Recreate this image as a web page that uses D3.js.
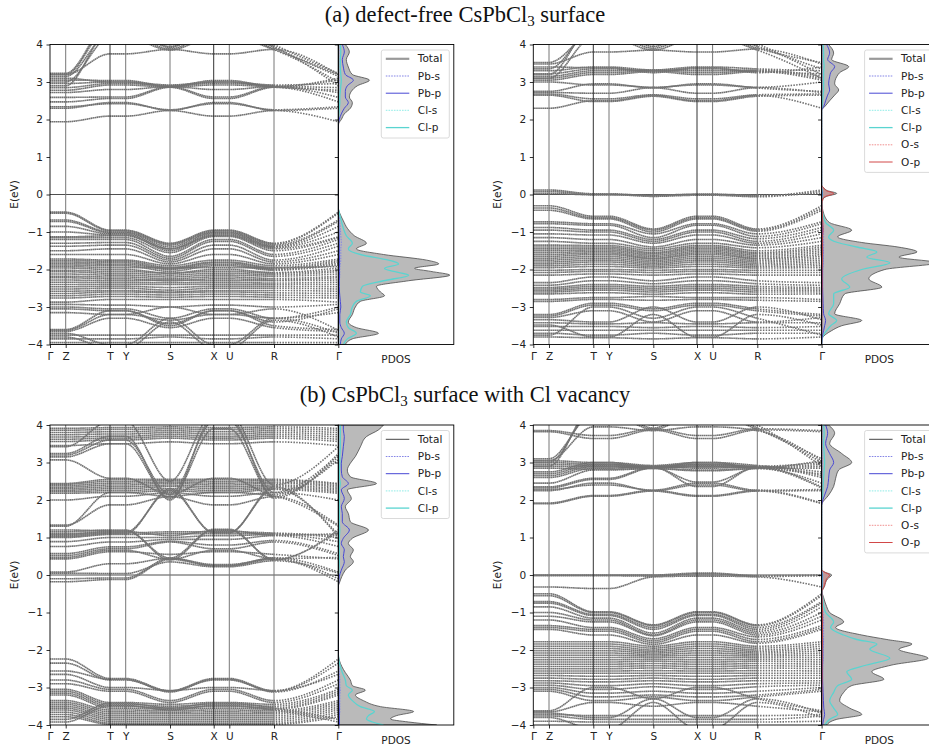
<!DOCTYPE html>
<html>
<head>
<meta charset="utf-8">
<script src="https://cdn.jsdelivr.net/npm/d3@7"></script>
<style>
  body { margin: 0; background: #fff; }
  svg { display: block; }
  text { font-family: "DejaVu Sans", sans-serif; }
</style>
</head>
<body>
<svg id="fig" width="929" height="749"></svg>
<script>
// high-symmetry path
const kLabels = ['Γ', 'Z', 'T', 'Y', 'S', 'X', 'U', 'R', 'Γ'];
const kPos = [0, 0.157, 0.600, 0.757, 1.200, 1.637, 1.793, 2.240, 2.883];
const yTicks = [4, 3, 2, 1, 0, -1, -2, -3, -4];

// bands: energy at [Γ(=Z), T(=Y), S, X(=U), R]
const bandsA1 = [
  [1.94, 2.09, 2.24, 2.09, 2.24], [2.30, 2.45, 2.24, 2.45, 2.24], [2.34, 2.42, 2.26, 2.42, 2.26],
  [2.47, 2.56, 2.86, 2.56, 2.86], [2.59, 2.60, 2.88, 2.60, 2.88], [2.72, 2.80, 2.88, 2.80, 2.88],
  [2.78, 2.92, 2.86, 2.92, 2.86], [2.85, 2.96, 2.90, 2.96, 2.90], [2.96, 3.00, 2.92, 3.00, 2.92],
  [3.05, 3.04, 2.88, 3.04, 2.88], [3.10, 3.00, 2.87, 3.00, 2.87], [3.15, 4.30, 3.88, 4.30, 3.88],
  [3.20, 4.50, 3.92, 4.50, 3.92], [3.00, 4.20, 3.85, 4.20, 3.86], [2.90, 4.40, 3.95, 4.40, 3.95],
  [3.20, 3.75, 3.87, 3.75, 3.87], [3.23, 4.60, 4.05, 4.60, 4.00],
  [-0.47, -0.95, -1.30, -0.95, -1.30], [-0.50, -0.97, -1.32, -0.97, -1.32], [-0.68, -1.00, -1.35, -1.00, -1.35],
  [-0.72, -1.02, -1.40, -1.02, -1.38], [-0.85, -1.05, -1.45, -1.05, -1.40], [-1.00, -1.08, -1.50, -1.08, -1.42],
  [-1.13, -1.10, -1.45, -1.10, -1.45], [-1.15, -1.15, -1.55, -1.12, -1.50], [-1.20, -1.20, -1.65, -1.20, -1.60],
  [-1.30, -1.28, -1.70, -1.25, -1.65], [-1.38, -1.35, -1.75, -1.35, -1.75], [-1.50, -1.45, -1.80, -1.45, -1.80],
  [-1.60, -1.60, -1.85, -1.60, -1.85], [-1.72, -1.75, -1.90, -1.75, -1.90], [-1.76, -1.78, -1.95, -1.80, -1.95],
  [-1.80, -1.82, -1.98, -1.82, -1.98], [-1.84, -1.86, -2.00, -1.86, -2.00], [-1.88, -1.90, -2.05, -1.90, -2.02],
  [-1.92, -1.95, -1.95, -1.95, -1.95], [-1.96, -2.00, -2.10, -2.00, -2.08], [-2.02, -2.05, -2.10, -2.05, -2.10],
  [-2.06, -2.10, -2.15, -2.10, -2.14], [-2.12, -2.15, -2.20, -2.15, -2.18], [-2.18, -2.20, -2.25, -2.20, -2.24],
  [-2.22, -2.25, -2.30, -2.25, -2.28], [-2.28, -2.30, -2.28, -2.30, -2.30], [-2.34, -2.35, -2.35, -2.35, -2.36],
  [-2.40, -2.40, -2.40, -2.40, -2.40], [-2.46, -2.45, -2.48, -2.45, -2.45], [-2.52, -2.50, -2.55, -2.50, -2.50],
  [-2.58, -2.56, -2.60, -2.56, -2.56], [-2.64, -2.60, -2.62, -2.60, -2.62], [-2.70, -2.66, -2.68, -2.66, -2.68],
  [-2.76, -2.72, -2.74, -2.72, -2.74], [-2.87, -2.80, -2.80, -2.80, -2.80], [-2.93, -2.95, -3.00, -2.95, -3.00],
  [-3.00, -3.05, -3.30, -3.05, -3.30], [-3.05, -3.10, -3.45, -3.10, -3.40], [-3.15, -3.20, -3.35, -3.20, -3.30],
  [-3.60, -3.10, -3.50, -3.10, -3.50], [-3.65, -3.30, -3.55, -3.30, -3.55], [-3.70, -4.00, -3.30, -4.00, -3.30],
  [-3.75, -3.75, -3.75, -3.75, -3.75], [-3.80, -4.10, -3.40, -4.10, -3.35], [-3.85, -3.85, -3.80, -3.85, -3.80],
  [-3.95, -3.95, -3.95, -3.95, -3.95], [-3.62, -3.20, -3.00, -3.20, -3.05]
];
const bandsA2 = [
  [2.30, 2.50, 2.64, 2.50, 2.64], [2.65, 2.48, 2.62, 2.48, 2.62], [2.68, 2.55, 2.66, 2.55, 2.66],
  [2.72, 2.70, 2.85, 2.70, 2.85], [2.75, 2.95, 2.84, 2.95, 2.84], [3.00, 2.92, 2.86, 2.92, 2.86],
  [3.05, 3.20, 3.28, 3.20, 3.28], [3.10, 3.25, 3.30, 3.25, 3.30], [3.15, 3.30, 3.32, 3.30, 3.32],
  [3.22, 3.35, 3.30, 3.35, 3.28], [3.30, 3.40, 3.32, 3.40, 3.35], [3.40, 3.38, 3.25, 3.38, 3.25],
  [3.48, 3.80, 3.85, 3.80, 3.88], [3.52, 4.30, 3.90, 4.30, 3.90], [3.35, 4.40, 3.95, 4.40, 3.95],
  [3.20, 4.50, 4.05, 4.50, 4.02], [3.10, 4.20, 3.85, 4.20, 3.85],
  [0.12, 0.02, -0.03, 0.00, -0.04], [0.08, 0.00, -0.05, -0.02, -0.06], [0.03, -0.01, -0.02, 0.01, -0.02],
  [-0.30, -0.58, -0.92, -0.58, -0.92], [-0.36, -0.62, -0.95, -0.62, -0.95], [-0.42, -0.65, -1.00, -0.65, -0.98],
  [-0.73, -0.78, -1.05, -0.78, -1.05], [-0.78, -0.82, -1.15, -0.82, -1.12], [-0.88, -0.95, -1.20, -0.95, -1.18],
  [-0.95, -1.00, -1.25, -1.00, -1.25], [-1.05, -1.08, -1.30, -1.08, -1.30], [-1.15, -1.20, -1.40, -1.20, -1.35],
  [-1.25, -1.30, -1.45, -1.30, -1.42], [-1.35, -1.36, -1.50, -1.36, -1.50], [-1.40, -1.40, -1.55, -1.40, -1.55],
  [-1.45, -1.44, -1.58, -1.44, -1.58], [-1.50, -1.48, -1.62, -1.48, -1.62], [-1.55, -1.52, -1.66, -1.52, -1.66],
  [-1.60, -1.56, -1.70, -1.56, -1.70], [-1.65, -1.60, -1.72, -1.60, -1.72], [-1.70, -1.65, -1.76, -1.65, -1.76],
  [-1.75, -1.70, -1.80, -1.70, -1.80], [-1.80, -1.75, -1.84, -1.75, -1.84], [-1.85, -1.80, -1.88, -1.80, -1.88],
  [-1.90, -1.86, -1.92, -1.86, -1.92], [-1.95, -1.92, -1.96, -1.92, -1.96], [-2.02, -2.00, -2.02, -2.00, -2.02],
  [-2.08, -2.05, -2.08, -2.05, -2.08], [-2.15, -2.12, -2.15, -2.12, -2.15], [-2.35, -2.20, -2.30, -2.20, -2.30],
  [-2.42, -2.30, -2.38, -2.30, -2.38], [-2.48, -2.40, -2.45, -2.40, -2.45], [-2.52, -2.45, -2.50, -2.45, -2.50],
  [-2.56, -2.50, -2.55, -2.50, -2.55], [-2.60, -2.55, -2.60, -2.55, -2.60], [-2.65, -2.62, -2.66, -2.62, -2.66],
  [-2.80, -2.75, -2.72, -2.75, -2.75], [-2.85, -2.80, -2.82, -2.80, -2.82], [-3.20, -2.90, -3.05, -2.90, -3.05],
  [-3.24, -2.95, -3.10, -2.95, -3.10], [-3.28, -3.10, -3.40, -3.10, -3.40], [-3.34, -3.40, -3.00, -3.40, -3.00],
  [-3.42, -3.45, -3.42, -3.45, -3.42], [-3.48, -3.80, -3.20, -3.80, -3.20], [-3.52, -3.52, -3.55, -3.52, -3.55],
  [-3.62, -3.62, -3.62, -3.62, -3.62], [-3.70, -3.75, -3.70, -3.75, -3.70], [-3.80, -3.82, -3.85, -3.82, -3.85],
  [-3.75, -3.00, -3.30, -3.00, -3.30]
];
const bandsB1 = [
  [-0.18, -0.12, 0.42, 0.25, 0.42], [-0.10, -0.08, 0.45, 0.28, 0.44], [0.05, 0.04, 0.35, 0.22, 0.38],
  [0.08, 0.30, 0.45, 0.25, 0.46], [0.43, 0.62, 0.55, 0.62, 0.55], [0.47, 0.66, 0.42, 0.66, 0.44],
  [0.52, 0.70, 0.88, 0.70, 0.88], [0.57, 0.75, 0.90, 0.80, 0.92], [0.76, 0.88, 0.95, 0.95, 1.05],
  [0.89, 1.00, 1.00, 1.05, 1.08], [1.00, 1.08, 1.10, 1.10, 1.10], [1.05, 1.12, 1.15, 1.15, 1.12],
  [1.10, 1.16, 1.05, 1.18, 1.06], [1.15, 1.20, 0.40, 1.20, 0.42], [1.20, 1.18, 0.45, 1.22, 0.40],
  [1.02, 1.10, 2.30, 1.12, 2.35], [1.08, 1.14, 2.25, 1.14, 2.30],
  [1.33, 1.87, 2.09, 1.87, 2.09], [1.30, 2.20, 2.10, 2.20, 2.10], [2.00, 2.10, 2.20, 2.10, 2.20],
  [2.18, 2.20, 2.25, 2.20, 2.28], [2.22, 2.25, 2.30, 2.25, 2.32], [2.26, 2.30, 2.36, 2.30, 2.36],
  [2.30, 2.35, 2.40, 2.35, 2.40], [2.34, 2.40, 2.45, 2.40, 2.45], [2.38, 2.45, 2.48, 2.45, 2.48],
  [2.42, 2.50, 2.52, 2.50, 2.52], [2.44, 2.55, 2.55, 2.55, 2.55], [3.07, 2.58, 2.15, 2.58, 2.15],
  [3.15, 3.50, 2.05, 3.90, 2.10], [3.20, 3.60, 2.15, 4.10, 2.20], [3.24, 3.70, 2.00, 4.20, 2.05],
  [3.42, 4.10, 2.50, 4.30, 2.40], [3.45, 3.50, 3.55, 3.50, 3.55], [3.56, 3.60, 3.65, 3.60, 3.65],
  [3.62, 3.65, 3.70, 3.65, 3.70], [3.68, 3.70, 3.75, 3.70, 3.75], [3.74, 3.76, 3.80, 3.76, 3.80],
  [3.80, 3.82, 3.85, 3.82, 3.85], [3.86, 3.88, 3.90, 3.88, 3.90], [3.91, 3.93, 3.95, 3.93, 3.95],
  [-2.24, -2.76, -3.09, -2.76, -3.09], [-2.35, -2.80, -3.10, -2.80, -3.10], [-2.56, -2.78, -3.12, -2.78, -3.12],
  [-2.65, -3.00, -3.08, -3.00, -3.08], [-2.80, -3.05, -3.35, -3.05, -3.35], [-2.90, -3.10, -3.40, -3.10, -3.40],
  [-3.05, -3.40, -3.45, -3.40, -3.45], [-3.10, -3.45, -3.50, -3.45, -3.50], [-3.15, -3.50, -3.55, -3.50, -3.55],
  [-3.20, -3.55, -3.58, -3.55, -3.58], [-3.35, -3.60, -3.62, -3.60, -3.62], [-3.40, -3.65, -3.66, -3.65, -3.66],
  [-3.45, -3.70, -3.70, -3.70, -3.70], [-3.50, -3.75, -3.75, -3.75, -3.75], [-3.55, -3.80, -3.80, -3.80, -3.80],
  [-3.60, -3.85, -3.85, -3.85, -3.85], [-3.66, -3.90, -3.90, -3.90, -3.90], [-3.72, -3.95, -3.95, -3.95, -3.95],
  [-3.78, -3.98, -3.98, -3.98, -3.98], [-3.85, -3.42, -3.55, -3.42, -3.55], [-3.92, -3.48, -3.60, -3.48, -3.60]
];
const bandsB2 = [
  [1.90, 2.10, 2.24, 2.10, 2.24], [1.92, 2.12, 2.26, 2.12, 2.26], [2.25, 2.45, 2.24, 2.40, 2.24],
  [2.28, 2.40, 2.26, 2.45, 2.26], [2.32, 2.55, 2.86, 2.48, 2.86], [2.35, 2.58, 2.88, 2.36, 2.88],
  [2.45, 2.80, 2.84, 2.80, 2.84], [2.60, 2.85, 2.88, 2.85, 2.88], [2.65, 2.90, 2.90, 2.90, 2.90],
  [2.70, 2.95, 2.86, 2.95, 2.86], [2.75, 3.00, 2.92, 3.00, 2.92], [2.85, 2.82, 2.84, 2.78, 2.84],
  [2.90, 2.88, 2.86, 2.88, 2.86], [2.95, 2.92, 2.88, 2.92, 2.88], [3.00, 2.96, 2.90, 2.96, 2.90],
  [3.05, 3.00, 2.86, 3.00, 2.86], [3.82, 3.64, 3.87, 3.64, 3.87], [3.85, 3.72, 3.90, 3.72, 3.90],
  [3.10, 4.30, 3.88, 4.30, 3.88], [3.00, 4.40, 3.92, 4.40, 3.92], [2.90, 4.50, 4.00, 4.50, 4.00],
  [3.05, 3.95, 3.85, 3.95, 3.85],
  [0.00, 0.00, 0.00, 0.05, -0.02], [-0.02, -0.02, -0.03, 0.03, -0.04], [-0.32, -0.36, -0.05, -0.03, -0.05],
  [-0.50, -0.98, -1.33, -0.98, -1.33], [-0.55, -1.00, -1.35, -1.00, -1.35], [-0.71, -1.05, -1.40, -1.05, -1.40],
  [-0.75, -1.08, -1.45, -1.08, -1.45], [-0.85, -1.15, -1.55, -1.15, -1.50], [-1.00, -1.20, -1.60, -1.20, -1.55],
  [-1.10, -1.25, -1.62, -1.25, -1.60], [-1.20, -1.40, -1.70, -1.40, -1.65], [-1.35, -1.45, -1.75, -1.45, -1.72],
  [-1.40, -1.50, -1.80, -1.50, -1.78], [-1.45, -1.60, -1.85, -1.60, -1.82], [-1.78, -1.78, -1.90, -1.78, -1.90],
  [-1.84, -1.84, -1.95, -1.84, -1.95], [-1.90, -1.90, -2.00, -1.90, -2.00], [-1.96, -1.96, -2.04, -1.96, -2.04],
  [-2.02, -2.02, -2.08, -2.02, -2.08], [-2.08, -2.08, -2.12, -2.08, -2.12], [-2.14, -2.14, -2.16, -2.14, -2.16],
  [-2.20, -2.20, -2.20, -2.20, -2.20], [-2.26, -2.26, -2.25, -2.26, -2.25], [-2.32, -2.32, -2.30, -2.32, -2.30],
  [-2.38, -2.38, -2.36, -2.38, -2.36], [-2.44, -2.44, -2.42, -2.44, -2.42], [-2.50, -2.50, -2.48, -2.50, -2.48],
  [-2.56, -2.56, -2.55, -2.56, -2.55], [-2.62, -2.62, -2.62, -2.62, -2.62], [-2.68, -2.70, -2.68, -2.70, -2.68],
  [-2.75, -2.78, -2.75, -2.78, -2.75], [-2.82, -2.85, -2.82, -2.85, -2.82], [-2.88, -2.95, -2.90, -2.95, -2.90],
  [-2.94, -3.05, -2.98, -3.05, -2.98], [-3.00, -3.15, -3.10, -3.15, -3.10], [-3.05, -3.25, -3.20, -3.25, -3.20],
  [-3.10, -3.35, -3.25, -3.35, -3.25], [-3.65, -3.40, -3.50, -3.40, -3.50], [-3.68, -3.80, -3.30, -3.80, -3.30],
  [-3.72, -3.75, -3.75, -3.75, -3.75], [-3.76, -3.85, -3.85, -3.85, -3.85], [-3.80, -4.10, -3.40, -4.10, -3.40],
  [-3.90, -3.92, -3.92, -3.92, -3.92], [-3.62, -3.00, -3.30, -3.00, -3.30]
];

// PDOS (energy grid + projected values, arbitrary units)
const eA1 = [4.0, 3.8, 3.6, 3.4, 3.2, 3.05, 2.9, 2.75, 2.6, 2.45, 2.3, 2.15, 2.0, 1.9, 1.8, -0.35, -0.5, -0.7, -0.9, -1.1,
  -1.3, -1.45, -1.6, -1.75, -1.85, -1.97, -2.05, -2.15, -2.3, -2.45, -2.6, -2.7, -2.85, -3.0, -3.2, -3.4, -3.55, -3.7, -3.85, -4.0];
const totA1 = [7, 11, 8, 10, 14, 31, 19, 13, 11, 14, 12, 6, 3, 0.5, 0, 0, 1.5, 5, 9, 16,
  28, 18, 45, 88, 100, 76, 92, 111, 70, 38, 42, 46, 22, 17, 14, 10, 18, 40, 14, 7];
const pbsA1 = [0.6, 0.6, 0.5, 0.5, 0.6, 0.8, 0.6, 0.5, 0.5, 0.5, 0.4, 0.3, 0.1, 0, 0, 0, 0.6, 1.2, 2, 2.5,
  3, 2.5, 2.5, 2.5, 2, 1.5, 1.5, 1.5, 1, 0.8, 0.8, 0.8, 0.6, 0.6, 0.5, 0.5, 0.5, 0.5, 0.5, 0.4];
const pbpA1 = [4, 6, 4, 5, 7, 15, 9, 7, 7, 10, 6, 3, 1, 0.2, 0, 0, 0.2, 0.4, 0.6, 0.8,
  1, 1, 1, 1.2, 1.2, 1, 1.2, 1.2, 1, 1, 1.2, 1.5, 2, 2.5, 1.5, 1.5, 3, 6, 3, 2];
const clsA1 = [0.3, 0.3, 0.3, 0.3, 0.3, 0.4, 0.3, 0.3, 0.3, 0.3, 0.2, 0.2, 0.1, 0, 0, 0, 0.2, 0.3, 0.4, 0.5,
  0.6, 0.5, 0.6, 0.8, 0.8, 0.7, 0.8, 0.8, 0.7, 0.6, 0.6, 0.6, 0.5, 0.5, 0.5, 0.5, 0.6, 0.8, 0.6, 0.5];
const clpA1 = [2, 2.5, 2, 2, 2.5, 3, 2.5, 2, 1.5, 1.5, 1, 0.5, 0.2, 0, 0, 0, 1, 3, 5, 8,
  14, 10, 22, 50, 60, 46, 55, 70, 45, 24, 22, 32, 18, 14, 12, 8, 10, 18, 9, 5];

const eA2 = [4.0, 3.77, 3.6, 3.41, 3.25, 3.14, 2.95, 2.79, 2.65, 2.5, 2.34, 2.25, 0.25, 0.18, 0.1, 0.03, -0.05, -0.12, -0.25, -0.5,
  -0.75, -0.95, -1.13, -1.28, -1.4, -1.53, -1.67, -1.82, -2.0, -2.25, -2.47, -2.65, -2.91, -3.18, -3.36, -3.5, -3.63, -3.85, -4.0];
const totA2 = [7, 12, 10, 27, 18, 15, 13, 17, 13, 8, 3, 0, 0, 2, 6, 15, 5, 1.5, 0.5, 2,
  8, 30, 16, 40, 76, 95, 77, 115, 63, 47, 60, 23, 18, 13, 40, 20, 10, 0.5, 0];
const pbsA2 = [0.5, 0.6, 0.5, 0.6, 0.5, 0.5, 0.5, 0.5, 0.5, 0.3, 0.2, 0, 0, 0, 0.2, 0.5, 0.2, 0, 0.2, 0.6,
  1.2, 2, 2, 2, 2, 1.8, 1.5, 1.5, 1.2, 1, 1, 0.8, 0.6, 0.5, 0.5, 0.5, 0.5, 0, 0];
const pbpA2 = [5, 8, 6, 13, 9, 8, 7, 8, 6, 4, 2, 0, 0, 0, 0.2, 0.5, 0.2, 0, 0, 0.3,
  0.5, 0.8, 0.8, 1, 1, 1.2, 1.2, 1.2, 1, 1, 1, 1.2, 1.5, 2, 4, 3, 2, 0.3, 0];
const clsA2 = [0.3, 0.3, 0.3, 0.3, 0.3, 0.3, 0.3, 0.3, 0.2, 0.2, 0.1, 0, 0, 0, 0.1, 0.2, 0.1, 0, 0, 0.2,
  0.4, 0.6, 0.5, 0.6, 0.8, 0.8, 0.8, 0.9, 0.7, 0.6, 0.6, 0.5, 0.5, 0.4, 0.6, 0.5, 0.4, 0, 0];
const clpA2 = [1.5, 2, 2, 2.5, 2, 2, 2, 2, 1.5, 1, 0.5, 0, 0, 0, 0.5, 1, 0.5, 0, 0.2, 1,
  4, 12, 7, 16, 35, 55, 45, 68, 40, 20, 28, 12, 12, 7, 15, 9, 5, 0.3, 0];
const osA2 = [0, 0, 0, 0, 0, 0, 0, 0, 0, 0, 0, 0, 0, 0.3, 0.8, 1.5, 0.6, 0.2, 0, 0.1,
  0.2, 0.2, 0.1, 0.1, 0.1, 0.1, 0.1, 0.1, 0.1, 0.1, 0.1, 0, 0, 0, 0, 0, 0, 0, 0];
const opA2 = [0, 0, 0, 0, 0, 0, 0, 0, 0, 0, 0, 0, 0, 2, 5, 12, 4, 1, 0.3, 0.8,
  1.2, 1.5, 1, 1, 1, 1, 0.8, 0.8, 0.5, 0.5, 0.5, 0.3, 0.3, 0.3, 0.3, 0.2, 0.2, 0, 0];

const eB1 = [4.0, 3.87, 3.69, 3.42, 3.16, 2.98, 2.8, 2.62, 2.44, 2.27, 2.04, 1.82, 1.64, 1.42, 1.2, 0.98, 0.84, 0.67, 0.49, 0.36,
  0.13, -0.04, -0.22, -0.3, -2.1, -2.44, -2.6, -2.8, -2.95, -3.07, -3.2, -3.35, -3.51, -3.64, -3.75, -3.84, -3.92, -4.0];
const totB1 = [45, 40, 28, 22, 17, 12, 9, 12, 38, 9, 13, 7, 10, 12, 30, 14, 10, 15, 12, 15,
  7, 3.5, 1, 0, 0, 3.5, 7, 12, 14, 27, 17, 25, 42, 75, 58, 52, 70, 98];
const pbsB1 = [0.6, 0.6, 0.5, 0.5, 0.5, 0.4, 0.4, 0.4, 0.6, 0.4, 0.4, 0.3, 0.3, 0.3, 0.5, 0.3, 0.3, 0.3, 0.3, 0.3,
  0.2, 0.1, 0, 0, 0, 0.5, 1, 1.5, 1.5, 2, 1.5, 1.5, 1.5, 1.5, 1.2, 1.2, 1.2, 1.2];
const pbpB1 = [5, 5, 6, 5, 4, 3, 3, 4, 10, 3, 6, 3, 4, 4, 11, 5, 3, 6, 5, 6,
  3, 1, 0.3, 0, 0, 0.2, 0.3, 0.5, 0.5, 0.7, 0.5, 0.6, 0.8, 1, 1, 1, 1, 1.2];
const clsB1 = [0.3, 0.3, 0.3, 0.3, 0.2, 0.2, 0.2, 0.2, 0.3, 0.2, 0.2, 0.2, 0.2, 0.2, 0.2, 0.2, 0.2, 0.2, 0.2, 0.2,
  0.1, 0, 0, 0, 0, 0.2, 0.3, 0.4, 0.4, 0.5, 0.4, 0.5, 0.6, 0.8, 0.7, 0.7, 0.8, 1];
const clpB1 = [2, 2, 2, 2, 1.5, 1.5, 1, 1, 2, 1, 1, 1, 1, 1, 1.5, 1, 1, 1, 1, 1,
  0.5, 0.3, 0, 0, 0, 2, 4, 7, 8, 14, 10, 14, 22, 36, 30, 28, 34, 45];

const eB2 = [4.0, 3.78, 3.51, 3.24, 3.0, 2.8, 2.58, 2.36, 2.13, 1.91, 1.85, 0.15, 0.08, 0.0, -0.1, -0.2, -0.3, -0.4, -0.45, -0.6,
  -0.84, -1.0, -1.25, -1.4, -1.6, -1.72, -1.84, -1.98, -2.22, -2.4, -2.58, -2.78, -2.95, -3.13, -3.35, -3.55, -3.72, -3.85, -4.0];
const totB2 = [7, 13, 8, 20, 30, 17, 14, 12, 7, 0.5, 0, 0, 3, 10, 6, 4, 3, 1, 0.5, 2,
  5, 8, 22, 14, 40, 65, 90, 77, 106, 70, 50, 62, 30, 22, 18, 28, 40, 15, 5];
const pbsB2 = [0.5, 0.6, 0.5, 0.6, 0.8, 0.6, 0.5, 0.5, 0.3, 0, 0, 0, 0.2, 0.4, 0.3, 0.2, 0.2, 0.1, 0.1, 0.5,
  1, 1.5, 2, 2, 2, 2, 1.8, 1.5, 1.5, 1.2, 1, 1, 0.8, 0.6, 0.5, 0.5, 0.5, 0.4, 0.3];
const pbpB2 = [4, 6, 4, 8, 12, 8, 7, 6, 3, 0.3, 0, 0, 0.2, 0.5, 0.3, 0.2, 0.2, 0.1, 0.1, 0.3,
  0.5, 0.8, 1, 1, 1, 1.2, 1.2, 1.2, 1.2, 1, 1, 1, 1.2, 1.5, 1.8, 2.2, 3, 2, 1];
const clsB2 = [0.3, 0.3, 0.3, 0.3, 0.4, 0.3, 0.3, 0.2, 0.2, 0, 0, 0, 0, 0.1, 0.1, 0, 0, 0, 0, 0.1,
  0.2, 0.3, 0.5, 0.4, 0.6, 0.7, 0.8, 0.8, 0.9, 0.7, 0.6, 0.6, 0.5, 0.4, 0.4, 0.5, 0.5, 0.3, 0.2];
const clpB2 = [2, 2.5, 2, 2.5, 3, 2.5, 2, 1.5, 1, 0, 0, 0, 0.3, 1, 0.8, 0.5, 0.5, 0.3, 0.2, 1,
  2, 4, 12, 9, 22, 35, 55, 48, 68, 45, 25, 30, 16, 12, 8, 12, 16, 8, 3];
const osB2 = [0, 0, 0, 0, 0, 0, 0, 0, 0, 0, 0, 0, 0.3, 1, 0.6, 0.4, 0.3, 0.1, 0, 0.1,
  0.1, 0.2, 0.2, 0.1, 0.1, 0.1, 0.1, 0.1, 0.1, 0.1, 0.1, 0.1, 0, 0, 0, 0, 0, 0, 0];
const opB2 = [0, 0, 0, 0, 0, 0, 0, 0, 0, 0, 0, 0, 2.5, 8, 5, 3.5, 2.5, 0.5, 0.2, 0.5,
  0.8, 1, 1, 0.8, 0.8, 0.8, 0.8, 0.6, 0.6, 0.5, 0.5, 0.5, 0.3, 0.3, 0.3, 0.2, 0.2, 0.1, 0];

const titles = ['(a) defect-free CsPbCl', '(b) CsPbCl'];
const titleTails = [' surface', ' surface with Cl vacancy'];

// series styling
const styles = {
  'Pb-s': { color: '#8585e6', dash: '1.6 1.1', width: 1 },
  'Pb-p': { color: '#4848d4', dash: null, width: 1 },
  'Cl-s': { color: '#a6f0ec', dash: '1.6 1.1', width: 1.2 },
  'Cl-p': { color: '#5ad4d0', dash: null, width: 1.3 },
  'O-s':  { color: '#f09090', dash: '1.6 1.1', width: 1 },
  'O-p':  { color: '#d24848', dash: null, width: 1 }
};

const bandW = 288.3, pdosW = 115.5, plotH = 300;
const panels = [
  { id: 'pA1', left: 50, top: 44.5, bands: bandsA1, e: eA1, total: totA1, totalLegend: 'thick',
    series: { 'Pb-s': pbsA1, 'Pb-p': pbpA1, 'Cl-s': clsA1, 'Cl-p': clpA1 } },
  { id: 'pA2', left: 533.3, top: 44.5, bands: bandsA2, e: eA2, total: totA2, totalLegend: 'thick',
    series: { 'Pb-s': pbsA2, 'Pb-p': pbpA2, 'Cl-s': clsA2, 'Cl-p': clpA2, 'O-s': osA2, 'O-p': opA2 } },
  { id: 'pB1', left: 50, top: 425, bands: bandsB1, e: eB1, total: totB1, totalLegend: 'thin',
    series: { 'Pb-s': pbsB1, 'Pb-p': pbpB1, 'Cl-s': clsB1, 'Cl-p': clpB1 } },
  { id: 'pB2', left: 533.3, top: 425, bands: bandsB2, e: eB2, total: totB2, totalLegend: 'thin',
    series: { 'Pb-s': pbsB2, 'Pb-p': pbpB2, 'Cl-s': clsB2, 'Cl-p': clpB2, 'O-s': osB2, 'O-p': opB2 } }
];

const svg = d3.select('#fig');
const defs = svg.append('defs');
const fmt = d => (d < 0 ? '\u2212' + Math.abs(d) : '' + d);

// titles (serif, with subscript 3)
[22, 402].forEach((ty, i) => {
  const t = svg.append('text')
    .attr('x', 465).attr('y', ty)
    .attr('text-anchor', 'middle')
    .style('font-family', '"Liberation Serif", "Times New Roman", serif')
    .style('font-size', '22.5px')
    .attr('fill', '#111');
  t.append('tspan').text(titles[i]);
  t.append('tspan').attr('dy', 4).style('font-size', '15px').text('3');
  t.append('tspan').attr('dy', -4).text(titleTails[i]);
});

function drawPanel(p) {
  const g = svg.append('g');
  const x = d3.scaleLinear().domain([0, kPos[kPos.length - 1]]).range([p.left, p.left + bandW]);
  const y = d3.scaleLinear().domain([-4, 4]).range([p.top + plotH, p.top]);
  const xd = d3.scaleLinear().domain([0, 115]).range([p.left + bandW, p.left + bandW + pdosW]);
  const xR = x(kPos[7]);

  // clip regions: dense part of path and sparse R-Γ part
  defs.append('clipPath').attr('id', p.id + '-main').append('rect')
    .attr('x', p.left).attr('y', p.top).attr('width', xR - p.left).attr('height', plotH);
  defs.append('clipPath').attr('id', p.id + '-rg').append('rect')
    .attr('x', xR).attr('y', p.top).attr('width', p.left + bandW - xR).attr('height', plotH);
  defs.append('clipPath').attr('id', p.id + '-dos').append('rect')
    .attr('x', p.left + bandW).attr('y', p.top).attr('width', pdosW).attr('height', plotH);

  // Fermi level
  g.append('line')
    .attr('x1', p.left).attr('x2', p.left + bandW)
    .attr('y1', y(0)).attr('y2', y(0))
    .attr('stroke', '#222').attr('stroke-width', 0.8);

  // bands
  const line = d3.line()
    .x((d, i) => x(kPos[i]))
    .y(d => y(d))
    .curve(d3.curveMonotoneX);
  const expand = b => [b[0], b[0], b[1], b[1], b[2], b[3], b[3], b[4], b[0]];
  [['main', '1.6 0.35'], ['rg', '1.5 1.3']].forEach(([seg, dash]) => {
    g.append('g').attr('clip-path', `url(#${p.id}-${seg})`)
      .selectAll('path').data(p.bands).join('path')
      .attr('d', b => line(expand(b)))
      .attr('fill', 'none')
      .attr('stroke', '#727272')
      .attr('stroke-width', 1.6)
      .attr('stroke-dasharray', dash);
  });

  // high-symmetry lines
  g.append('g').selectAll('line').data(kPos.slice(1, 8)).join('line')
    .attr('x1', d => x(d)).attr('x2', d => x(d))
    .attr('y1', p.top).attr('y2', p.top + plotH)
    .attr('stroke', (d, i) => (i === 1 || i === 4) ? '#333' : '#777')
    .attr('stroke-width', 1);

  // PDOS
  const dos = g.append('g').attr('clip-path', `url(#${p.id}-dos)`);
  const idx = d3.range(p.e.length);
  const area = vals => d3.area()
    .y(i => y(p.e[i]))
    .x0(xd(0))
    .x1(i => xd(vals[i]))
    .curve(d3.curveMonotoneY)(idx);
  const lineD = vals => d3.line()
    .y(i => y(p.e[i]))
    .x(i => xd(vals[i]))
    .curve(d3.curveMonotoneY)(idx);

  dos.append('path').attr('d', area(p.total))
    .attr('fill', '#bababa').attr('stroke', '#4a4a4a').attr('stroke-width', 0.8);
  if (p.series['O-p']) {
    dos.append('path').attr('d', area(p.series['O-p']))
      .attr('fill', '#d25858').attr('fill-opacity', 0.35).attr('stroke', 'none');
  }
  ['Cl-s', 'Pb-s', 'O-s', 'Cl-p', 'Pb-p', 'O-p'].forEach(k => {
    if (!p.series[k]) return;
    const s = styles[k];
    dos.append('path').attr('d', lineD(p.series[k]))
      .attr('fill', 'none').attr('stroke', s.color)
      .attr('stroke-width', s.width)
      .attr('stroke-dasharray', s.dash);
  });

  // frames
  g.append('rect')
    .attr('x', p.left).attr('y', p.top).attr('width', bandW).attr('height', plotH)
    .attr('fill', 'none').attr('stroke', '#000').attr('stroke-width', 0.9);
  g.append('rect')
    .attr('x', p.left + bandW).attr('y', p.top).attr('width', pdosW).attr('height', plotH)
    .attr('fill', 'none').attr('stroke', '#000').attr('stroke-width', 0.9);

  // axes
  const ya = g.append('g').attr('transform', `translate(${p.left},0)`)
    .call(d3.axisLeft(y).tickValues(yTicks).tickFormat(fmt).tickSize(3.5).tickPadding(3.5).tickSizeOuter(0));
  const yd = g.append('g').attr('transform', `translate(${p.left + bandW},0)`)
    .call(d3.axisLeft(y).tickValues(yTicks).tickFormat('').tickSize(3.5).tickSizeOuter(0));
  const xa = g.append('g').attr('transform', `translate(0,${p.top + plotH})`)
    .call(d3.axisBottom(x).tickValues(kPos).tickFormat((d, i) => kLabels[i]).tickSize(3.5).tickPadding(4.5).tickSizeOuter(0));
  [ya, yd, xa].forEach(a => {
    a.select('.domain').remove();
    a.selectAll('line').attr('stroke', '#000').attr('stroke-width', 0.8);
    a.selectAll('text').style('font-size', '10.5px').attr('fill', '#222');
  });

  g.append('text')
    .attr('x', p.left + bandW + pdosW / 2).attr('y', p.top + plotH + 18.5)
    .attr('text-anchor', 'middle').style('font-size', '10.5px').attr('fill', '#222')
    .text('PDOS');
  g.append('text')
    .attr('transform', `translate(${p.left - 32},${p.top + plotH / 2}) rotate(-90)`)
    .attr('text-anchor', 'middle').style('font-size', '10.5px').attr('fill', '#222')
    .text('E(eV)');

  // legend
  const keys = ['Total'].concat(Object.keys(p.series));
  const lx = p.left + bandW + 43, ly = p.top + 5.5;
  const lg = g.append('g');
  lg.append('rect')
    .attr('x', lx).attr('y', ly)
    .attr('width', 68).attr('height', keys.length * 17.2 + 2)
    .attr('rx', 2)
    .attr('fill', '#fff').attr('fill-opacity', 0.85)
    .attr('stroke', '#d0d0d0').attr('stroke-width', 0.8);
  keys.forEach((k, i) => {
    const cy = ly + 8.8 + i * 17.2;
    const s = k === 'Total'
      ? (p.totalLegend === 'thick' ? { color: '#999', width: 2.2, dash: null } : { color: '#444', width: 1, dash: null })
      : styles[k];
    lg.append('line')
      .attr('x1', lx + 4.5).attr('x2', lx + 28)
      .attr('y1', cy).attr('y2', cy)
      .attr('stroke', s.color).attr('stroke-width', s.width)
      .attr('stroke-dasharray', s.dash);
    lg.append('text')
      .attr('x', lx + 36.5).attr('y', cy).attr('dy', '0.35em')
      .style('font-size', '10.5px').attr('fill', '#222')
      .text(k);
  });
}

panels.forEach(drawPanel);
</script>
</body>
</html>
